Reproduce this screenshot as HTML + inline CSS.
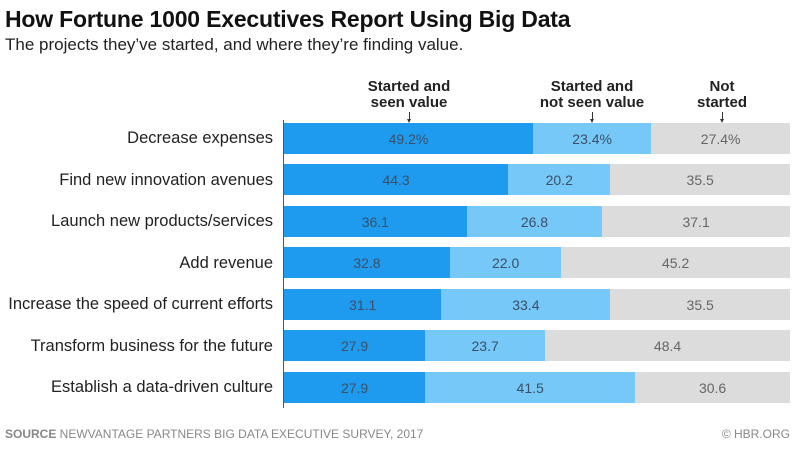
<!DOCTYPE html>
<html><head><style>
body{margin:0;width:804px;height:455px;background:#fff;position:relative;font-family:"Liberation Sans",sans-serif;overflow:hidden}
.a{position:absolute;white-space:nowrap}
.t{left:5px;top:6px;font-size:23px;font-weight:bold;color:#111;letter-spacing:-0.2px}
.s{left:5px;top:35px;font-size:17px;color:#222}
.h{font-size:15px;font-weight:bold;color:#222;text-align:center;line-height:16px;transform:translateX(-50%)}
.ar{position:absolute;width:1px;height:9px;background:#333}
.ar:after{content:"";position:absolute;left:-2px;bottom:-2px;border-left:2.5px solid transparent;border-right:2.5px solid transparent;border-top:4px solid #333}
.l{right:531px;font-size:16.5px;color:#222;text-align:right}
.bar{position:absolute;left:284px;height:31px;width:506px;display:flex}
.bar div{height:100%;display:flex;align-items:center;justify-content:center;font-size:14px;color:#3c4f66}
.d{background:#1e9bef}.m{background:#75c8f7}.g{background:#dcdcdc;color:#666!important}
</style></head><body>
<div class="a t">How Fortune 1000 Executives Report Using Big Data</div>
<div class="a s">The projects they’ve started, and where they’re finding value.</div>
<div class="a h" style="left:409px;top:79px">Started and<br>seen value</div>
<div class="a h" style="left:592px;top:79px">Started and<br>not seen value</div>
<div class="a h" style="left:722px;top:79px">Not<br>started</div>
<div class="ar" style="left:409px;top:112px"></div>
<div class="ar" style="left:592px;top:112px"></div>
<div class="ar" style="left:722px;top:112px"></div>
<div style="position:absolute;left:283px;top:120px;width:1px;height:288px;background:#555"></div>
<div class="a l" style="top:129px">Decrease expenses</div>
<div class="a l" style="top:171px">Find new innovation avenues</div>
<div class="a l" style="top:212px">Launch new products/services</div>
<div class="a l" style="top:254px">Add revenue</div>
<div class="a l" style="top:295px">Increase the speed of current efforts</div>
<div class="a l" style="top:337px">Transform business for the future</div>
<div class="a l" style="top:378px">Establish a data-driven culture</div>
<div class="bar" style="top:123px"><div class="d" style="width:49.2%">49.2%</div><div class="m" style="width:23.4%">23.4%</div><div class="g" style="width:27.4%">27.4%</div></div>
<div class="bar" style="top:164px"><div class="d" style="width:44.3%">44.3</div><div class="m" style="width:20.2%">20.2</div><div class="g" style="width:35.5%">35.5</div></div>
<div class="bar" style="top:206px"><div class="d" style="width:36.1%">36.1</div><div class="m" style="width:26.8%">26.8</div><div class="g" style="width:37.1%">37.1</div></div>
<div class="bar" style="top:247px"><div class="d" style="width:32.8%">32.8</div><div class="m" style="width:22.0%">22.0</div><div class="g" style="width:45.2%">45.2</div></div>
<div class="bar" style="top:289px"><div class="d" style="width:31.1%">31.1</div><div class="m" style="width:33.4%">33.4</div><div class="g" style="width:35.5%">35.5</div></div>
<div class="bar" style="top:330px"><div class="d" style="width:27.9%">27.9</div><div class="m" style="width:23.7%">23.7</div><div class="g" style="width:48.4%">48.4</div></div>
<div class="bar" style="top:372px"><div class="d" style="width:27.9%">27.9</div><div class="m" style="width:41.5%">41.5</div><div class="g" style="width:30.6%">30.6</div></div>
<div class="a" style="left:5px;top:427px;font-size:12px;color:#888"><b>SOURCE</b> NEWVANTAGE PARTNERS BIG DATA EXECUTIVE SURVEY, 2017</div>
<div class="a" style="right:14px;top:427px;font-size:12px;color:#888">© HBR.ORG</div>
</body></html>
